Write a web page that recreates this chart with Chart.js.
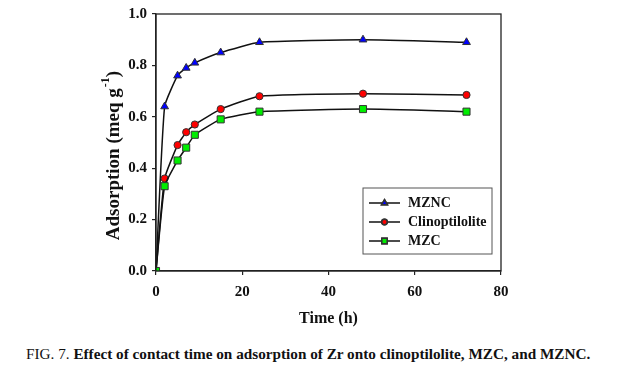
<!DOCTYPE html>
<html>
<head>
<meta charset="utf-8">
<script src="https://cdn.jsdelivr.net/npm/chart.js@4"></script>
<style>
  body { margin: 0; background: #fff; }
  #wrap { position: absolute; left: 0; top: 0; width: 628px; height: 340px; }
  #caption {
    position: absolute; left: 26px; top: 346px; white-space: nowrap;
    font-family: "Liberation Serif", serif; font-size: 14.5px; color: #111;
    transform-origin: 0 0; transform: scaleX(1.05);
  }
  #caption b { font-weight: bold; }
</style>
</head>
<body>
<div id="wrap"><canvas id="chart"></canvas></div>
<div id="caption">FIG. 7. <b>Effect of contact time on adsorption of Zr onto clinoptilolite, MZC, and MZNC.</b></div>
<script>
// time points (h)
const times = [0, 2, 5, 7, 9, 15, 24, 48, 72];
const mzncValues = [0, 0.64, 0.76, 0.79, 0.81, 0.85, 0.89, 0.90, 0.89];
const clinoValues = [0, 0.36, 0.49, 0.54, 0.57, 0.63, 0.68, 0.69, 0.685];
const mzcValues = [0, 0.33, 0.43, 0.48, 0.53, 0.59, 0.62, 0.63, 0.62];
const xTicks = [0, 20, 40, 60, 80];
const yTicks = [0, 0.2, 0.4, 0.6, 0.8, 1.0];

const serif = '"Liberation Serif", "Times New Roman", serif';

function toPoints(vals) {
    return times.map((t, i) => ({ x: t, y: vals[i] }));
}

const series = [
    { label: 'MZNC', data: mzncValues, color: '#0000ff', style: 'triangle', radius: 4.5, order: 2 },
    { label: 'Clinoptilolite', data: clinoValues, color: '#ff0000', style: 'circle', radius: 3.6, order: 1 },
    { label: 'MZC', data: mzcValues, color: '#00ee00', style: 'rect', radius: 5, order: 0 }
];

// frame, y title with superscript and legend box
const extras = {
    id: 'extras',
    afterDraw(chart) {
        const ctx = chart.ctx;
        const a = chart.chartArea;
        ctx.save();
        ctx.strokeStyle = '#222';
        ctx.lineWidth = 1.3;
        ctx.strokeRect(a.left, a.top, a.right - a.left, a.bottom - a.top);

        // y axis title
        ctx.translate(114, 156);
        ctx.rotate(-Math.PI / 2);
        ctx.fillStyle = '#111';
        ctx.textBaseline = 'middle';
        const main = 'Adsorption (meq g';
        ctx.font = 'bold 19px ' + serif;
        const w1 = ctx.measureText(main).width;
        ctx.font = 'bold 12px ' + serif;
        const w2 = ctx.measureText('-1').width;
        ctx.font = 'bold 19px ' + serif;
        const w3 = ctx.measureText(')').width;
        let x0 = -(w1 + w2 + w3) / 2;
        ctx.textAlign = 'left';
        ctx.fillText(main, x0, 0);
        ctx.font = 'bold 12px ' + serif;
        ctx.fillText('-1', x0 + w1 + 1, -8);
        ctx.font = 'bold 19px ' + serif;
        ctx.fillText(')', x0 + w1 + w2 + 1, 0);
        ctx.restore();

        // legend
        ctx.save();
        const lx = 363, ly = 188, lw = 129, lh = 66;
        ctx.fillStyle = '#fff';
        ctx.fillRect(lx, ly, lw, lh);
        ctx.strokeStyle = '#555';
        ctx.lineWidth = 1;
        ctx.strokeRect(lx, ly, lw, lh);
        ctx.font = 'bold 14px ' + serif;
        ctx.textBaseline = 'middle';
        chart.data.datasets.forEach((ds, i) => {
            const yy = ly + 15 + i * 19;
            ctx.strokeStyle = '#111';
            ctx.lineWidth = 1.5;
            ctx.beginPath();
            ctx.moveTo(lx + 6, yy);
            ctx.lineTo(lx + 37, yy);
            ctx.stroke();
            Chart.helpers.drawPoint(ctx, {
                pointStyle: ds.pointStyle, radius: ds.pointRadius * 0.75, borderWidth: 1
            }, lx + 21.5, yy);
            ctx.fillStyle = ds.pointBackgroundColor;
            ctx.strokeStyle = '#333';
            ctx.fill();
            ctx.stroke();
            ctx.fillStyle = '#111';
            ctx.fillText(ds.label, lx + 45, yy);
        });
        ctx.restore();
    }
};

new Chart(document.getElementById('chart'), {
    type: 'line',
    data: {
        datasets: series.map(s => ({
            label: s.label,
            data: toPoints(s.data),
            borderColor: '#111',
            borderWidth: 1.5,
            pointStyle: s.style,
            pointRadius: s.radius,
            pointBackgroundColor: s.color,
            pointBorderColor: '#333',
            pointBorderWidth: 1,
            tension: 0.15,
            order: s.order
        }))
    },
    options: {
        responsive: true,
        maintainAspectRatio: false,
        animation: false,
        layout: { padding: { left: 0, top: 13, right: 127, bottom: 8 } },
        plugins: {
            legend: { display: false },
            tooltip: { enabled: false }
        },
        scales: {
            x: {
                type: 'linear',
                min: 0,
                max: 80,
                afterBuildTicks: axis => { axis.ticks = xTicks.map(v => ({ value: v })); },
                afterFit: axis => { axis.height = 61; },
                ticks: {
                    color: '#111',
                    padding: 8,
                    maxRotation: 0,
                    font: { family: serif, size: 15, weight: 'bold' }
                },
                grid: { drawOnChartArea: false, tickLength: 4, color: '#222', lineWidth: 1.2 },
                border: { color: '#222', width: 1.3 },
                title: {
                    display: true,
                    text: 'Time (h)',
                    color: '#111',
                    padding: { top: 6 },
                    font: { family: serif, size: 16, weight: 'bold' }
                }
            },
            y: {
                min: 0,
                max: 1,
                afterBuildTicks: axis => { axis.ticks = yTicks.map(v => ({ value: v })); },
                afterFit: axis => { axis.width = 156; },
                ticks: {
                    color: '#111',
                    padding: 5,
                    font: { family: serif, size: 15, weight: 'bold' },
                    callback: v => v.toFixed(1)
                },
                grid: { drawOnChartArea: false, tickLength: 4, color: '#222', lineWidth: 1.2 },
                border: { color: '#222', width: 1.3 }
            }
        }
    },
    plugins: [extras]
});
</script>
</body>
</html>
